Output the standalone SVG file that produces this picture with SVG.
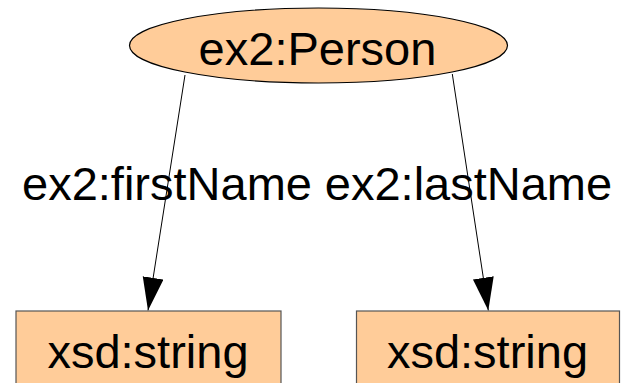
<svg xmlns="http://www.w3.org/2000/svg" width="621" height="383" viewBox="0 0 621 383">
<style>
text{font-family:"Liberation Sans",Arial,sans-serif;font-size:47px;fill:#000;text-anchor:middle}
.node{fill:#ffcc99}
.ell{stroke:#000;stroke-width:1.2}
.box{stroke:#555;stroke-width:1.2}
.edge{stroke:#000;stroke-width:1;fill:none}
</style>
<defs>
<marker id="arr" markerUnits="userSpaceOnUse" markerWidth="34" markerHeight="22" refX="33" refY="10.5" orient="auto">
<path d="M0,0 L33,10.5 L0,21 Z" fill="#000"/>
</marker>
</defs>
<rect width="621" height="383" fill="#fff"/>
<g id="connectors">
<path class="edge" d="M185,75 L148,310.5" marker-end="url(#arr)"/>
<path class="edge" d="M452.3,74 L488.3,310.5" marker-end="url(#arr)"/>
<text x="167" y="200">ex2:firstName</text>
<text x="468.5" y="200">ex2:lastName</text>
</g>
<g id="person">
<ellipse class="node ell" cx="318.5" cy="45.5" rx="189" ry="37.5"/>
<text x="317.5" y="65">ex2:Person</text>
</g>
<g id="string1">
<rect class="node box" x="16" y="311" width="265" height="90"/>
<text x="148" y="368">xsd:string</text>
</g>
<g id="string2">
<rect class="node box" x="356.5" y="311" width="263" height="90"/>
<text x="487.5" y="368">xsd:string</text>
</g>
</svg>
